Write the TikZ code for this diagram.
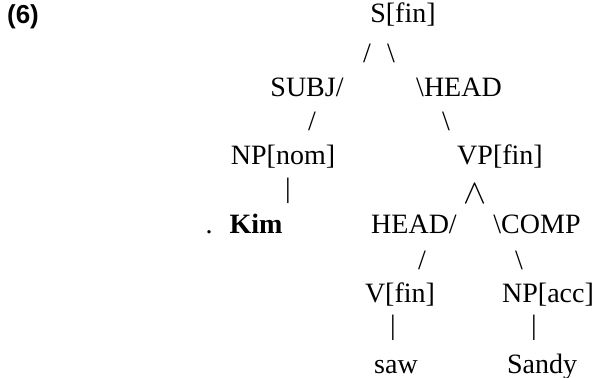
\documentclass[tikz,border=0pt]{standalone}
\usepackage{fontspec}
\setmainfont{Liberation Serif}
\newfontfamily\exfont{Liberation Sans}
\begin{document}
\begin{tikzpicture}[x=0.5pt,y=-0.5pt,
  lab/.style={anchor=base,inner sep=0pt,font=\fontsize{14}{16}\selectfont},
  exnum/.style={anchor=base,inner sep=0pt,font=\exfont\bfseries\fontsize{13}{15}\selectfont},
  wordb/.style={lab,font=\bfseries\fontsize{14}{16}\selectfont},
  wedgesym/.style={anchor=base,inner sep=0pt,font=\fontsize{17}{19}\selectfont}]
\useasboundingbox (0,0) rectangle (598,378);
\node[exnum] (ex) at (23,24) {(6)};
\node[lab] (s) at (403,23) {S[fin]};
\node[lab] (sl1) at (367,63) {/};
\node[lab] (bs1) at (391,63) {\textbackslash};
\node[lab] (subj) at (307,97) {SUBJ/};
\node[lab] (headA) at (459,97) {\textbackslash HEAD};
\node[lab] (sl2) at (312,131) {/};
\node[lab] (bs2) at (446,131) {\textbackslash};
\node[lab] (npnom) at (283,165) {NP[nom]};
\node[lab] (vp) at (500,165) {VP[fin]};
\node[lab] (bar1) at (288,198) {|};
\node[wedgesym] (wedge) at (475,204) {$\wedge$};
\node[lab] (dot) at (209,234) {.};
\node[wordb] (kim) at (256,234) {Kim};
\node[lab] (headB) at (414,234) {HEAD/};
\node[lab] (comp) at (537,234) {\textbackslash COMP};
\node[lab] (sl3) at (422,270) {/};
\node[lab] (bs3) at (519,270) {\textbackslash};
\node[lab] (vfin) at (400,303) {V[fin]};
\node[lab] (npacc) at (548,303) {NP[acc]};
\node[lab] (bar2) at (393,335) {|};
\node[lab] (bar3) at (534,335) {|};
\node[lab] (saw) at (396,373) {saw};
\node[lab] (sandy) at (542,373) {Sandy};
\end{tikzpicture}
\end{document}
